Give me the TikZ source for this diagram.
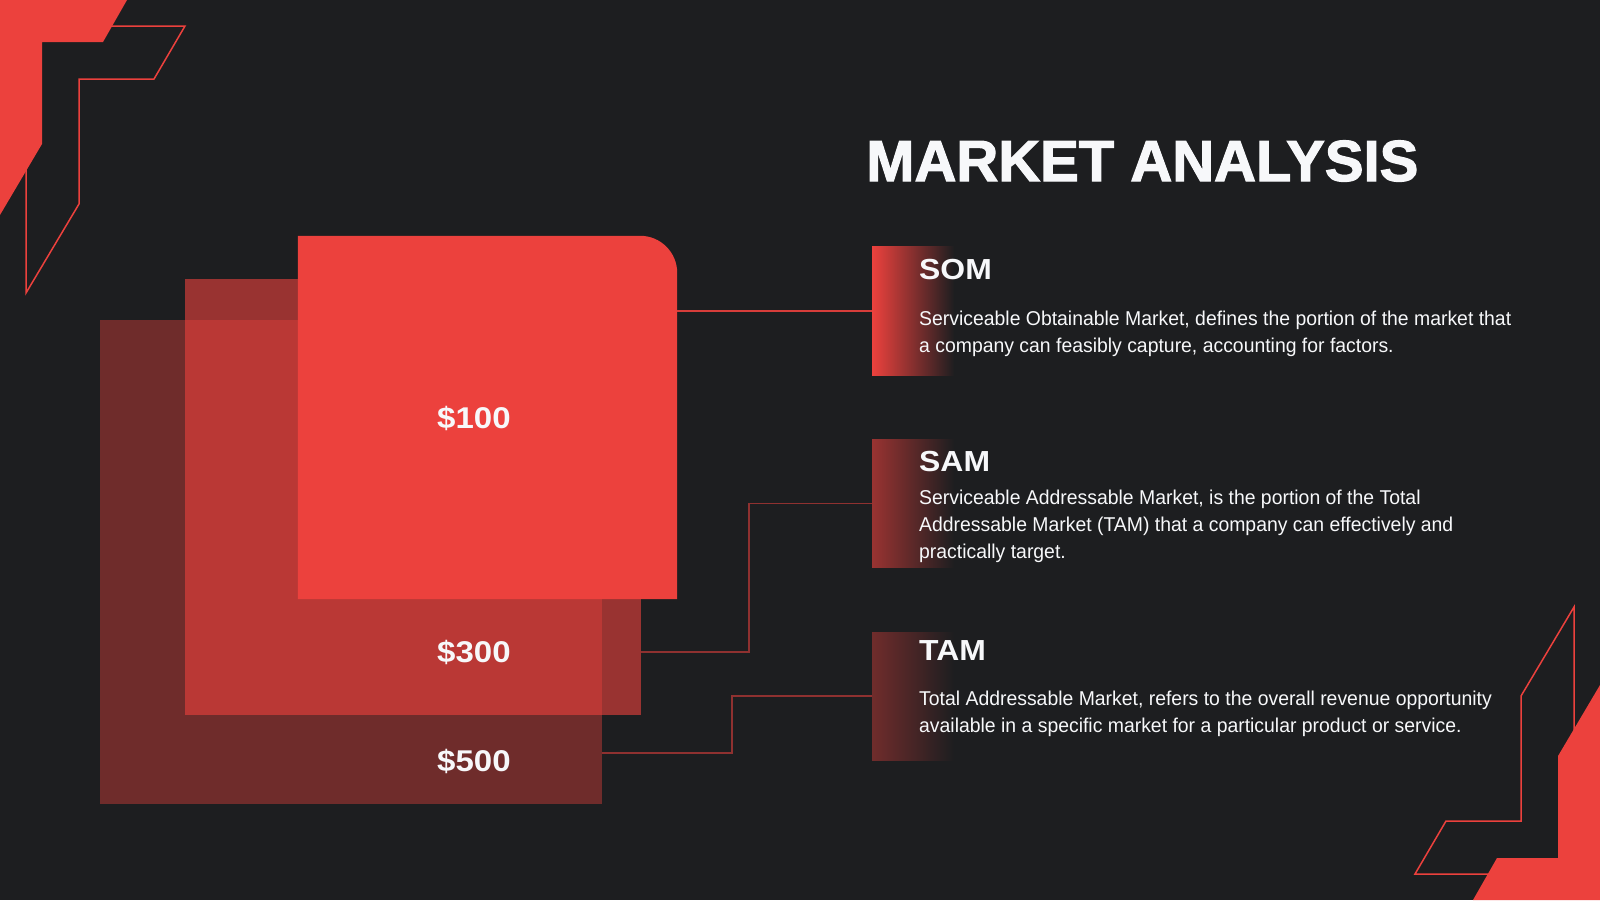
\documentclass[tikz,border=0pt]{standalone}
\usepackage{fontspec}
\setmainfont{Liberation Sans}
\newfontfamily\titlefont[FakeBold=2]{Liberation Sans}
\newfontfamily\widefont[FakeStretch=1.1]{Liberation Sans}
\newfontfamily\bodyfont[FakeStretch=0.97]{Liberation Sans}
\definecolor{bg}{HTML}{1D1E20}
\definecolor{mred}{HTML}{EC413D}
\definecolor{ink}{HTML}{F7F8FA}
\tikzstyle{box} = [rectangle, inner sep=0pt, fill=mred]
\tikzstyle{bar} = [rectangle, inner sep=0pt, minimum width=82pt, minimum height=128.5pt, right color=bg, anchor=west]
\tikzstyle{price} = [text=ink, font=\widefont\bfseries\fontsize{30}{30}\selectfont, anchor=base west, inner sep=0pt]
\tikzstyle{head} = [text=ink, font=\widefont\bfseries\fontsize{29}{29}\selectfont, anchor=base west, inner sep=0pt]
\tikzstyle{body} = [text=ink, font=\bodyfont\fontsize{20}{27}\selectfont, align=left, anchor=base west, inner sep=0pt]
\tikzstyle{link} = [line width=1.7pt, mred!55!bg]

\begin{document}
\begin{tikzpicture}[x=1pt,y=-1pt]
\fill[bg] (0,0) rectangle (1600,900);
\useasboundingbox (0,0) rectangle (1600,900);
% corner marks
\foreach \r in {0,180}{
	\begin{scope}[rotate around={\r:(800,450)}]
	\draw[mred, line width=1.5pt] (26,26) -- (185,26) -- (154,79) -- (79,79) -- (79,204) -- (26,293) -- cycle;
	\fill[mred] (0,0) -- (127,0) -- (103,42) -- (42,42) -- (42,144) -- (0,215) -- cycle;
	\end{scope}
}
% market boxes
\node[box, fill opacity=0.4, minimum width=502pt, minimum height=484pt] (b500) at (351,562) {};
\node[box, fill opacity=0.6, minimum width=456pt, minimum height=436pt] (b300) at (413,497) {};
\node[box, fill=none, minimum width=379pt, minimum height=363pt] (b100) at (487.5,417.5) {};
\fill[mred] (b100.south west) -- (b100.north west) -- ([xshift=-37pt]b100.north east)
	.. controls ([xshift=-16.6pt]b100.north east) and ([yshift=-16.6pt]b100.north east) .. ([yshift=-37pt]b100.north east)
	-- (b100.south east) -- cycle;
\node[price] (l100) at (437,428) {\$100};
\node[price] (l300) at (437,662) {\$300};
\node[price] (l500) at (437,771) {\$500};
% side bars
\node[bar, left color=mred] (som) at (872,311.2) {};
\node[bar, left color=mred!60!bg] (sam) at (872,503.6) {};
\node[bar, left color=mred!40!bg] (tam) at (872,696.3) {};
% links
\draw[link, mred!90!bg] (b100.east |- som.west) -- (som.west);
\draw[link] (b300.east |- 0,652) -| ([xshift=-123pt]sam.west) -- (sam.west);
\draw[link] (b500.east |- 0,753) -| ([xshift=-140pt]tam.west) -- (tam.west);
% texts (body nodes sit on their last line)
\node[text=ink, font=\titlefont\bfseries\fontsize{58}{58}\selectfont, anchor=base west, inner sep=0pt] (title) at (866,181) {MARKET ANALYSIS};
\node[head] (somh) at (919,279.5) {SOM};
\node[body] (somt) at (919,352.5) {Serviceable Obtainable Market, defines the portion of the market that\\a company can feasibly capture, accounting for factors.};
\node[head] (samh) at (919,471.6) {SAM};
\node[body] (samt) at (919,558.4) {Serviceable Addressable Market, is the portion of the Total\\Addressable Market (TAM) that a company can effectively and\\practically target.};
\node[head] (tamh) at (919,660) {TAM};
\node[body] (tamt) at (919,732.7) {Total Addressable Market, refers to the overall revenue opportunity\\available in a specific market for a particular product or service.};
\end{tikzpicture}
\end{document}
